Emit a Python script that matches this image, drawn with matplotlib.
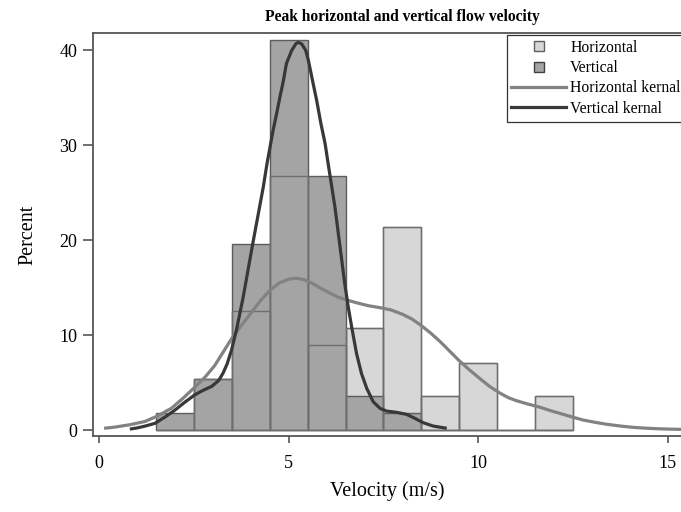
import matplotlib.pyplot as plt
from matplotlib.lines import Line2D

plt.rcParams['font.family'] = ['Liberation Serif', 'DejaVu Serif']

# histogram bins (m/s) and percentages
bin_left = [1.5, 2.5, 3.5, 4.5, 5.5, 6.5, 7.5, 8.5, 9.5, 10.5, 11.5]
horizontal_pct = [0.0, 5.4, 12.5, 26.8, 9.0, 10.7, 21.4, 3.6, 7.1, 0.0, 3.6]
vertical_pct = [1.8, 5.4, 19.6, 41.1, 26.8, 3.6, 1.8, 0.0, 0.0, 0.0, 0.0]

# kernel density curves
h_kern_x = [0.13, 0.4, 0.8, 1.21, 1.55, 1.91, 2.2, 2.52, 2.8, 3.05, 3.27, 3.49, 3.75,
            4.0, 4.25, 4.5, 4.75, 5.0, 5.2, 5.4, 5.6, 5.82, 6.05, 6.3, 6.53, 6.8, 7.1,
            7.4, 7.7, 8.0, 8.25, 8.5, 8.75, 9.0, 9.25, 9.5, 9.75, 10.05, 10.3, 10.57,
            10.8, 11.0, 11.3, 11.63, 11.9, 12.2, 12.5, 12.77, 13.1, 13.4, 13.75, 14.09,
            14.4, 14.7, 15.0, 15.35]
h_kern_y = [0.18, 0.3, 0.55, 0.9, 1.5, 2.3, 3.3, 4.5, 5.6, 6.8, 8.2, 9.6, 11.0,
            12.3, 13.6, 14.7, 15.5, 15.9, 16.0, 15.85, 15.5, 15.0, 14.5, 14.0, 13.7, 13.4, 13.1,
            12.9, 12.65, 12.2, 11.7, 11.0, 10.2, 9.3, 8.3, 7.3, 6.4, 5.4, 4.6, 3.9,
            3.4, 3.1, 2.75, 2.4, 2.05, 1.7, 1.35, 1.05, 0.8, 0.6, 0.42, 0.28,
            0.2, 0.14, 0.1, 0.07]
v_kern_x = [0.81, 1.0, 1.2, 1.47, 1.75, 2.0, 2.25, 2.52, 2.75, 2.97, 3.15, 3.27, 3.38,
            3.49, 3.62, 3.8, 4.06, 4.33, 4.43, 4.59, 4.68, 4.77, 4.86, 4.94, 5.08, 5.19,
            5.25, 5.34, 5.45, 5.52, 5.63, 5.74, 5.85, 5.96, 6.04, 6.13, 6.22, 6.31, 6.4,
            6.48, 6.57, 6.66, 6.79, 6.92, 7.06, 7.23, 7.41, 7.58, 7.85, 8.11, 8.33, 8.55,
            8.81, 9.17]
v_kern_y = [0.1, 0.22, 0.4, 0.7, 1.4, 2.1, 2.9, 3.7, 4.2, 4.6, 5.2, 6.0, 7.0,
            8.4, 10.5, 14.0, 19.8, 25.6, 28.1, 31.6, 33.3, 35.1, 36.8, 38.6, 40.0, 40.7,
            40.84, 40.7, 40.0, 38.95, 36.8, 34.7, 32.3, 30.2, 28.1, 25.8, 23.5, 20.7, 17.9,
            15.4, 13.0, 10.9, 8.07, 5.96, 4.39, 2.98, 2.28, 2.0, 1.86, 1.65, 1.23, 0.77,
            0.42, 0.18]

fig = plt.figure(figsize=(6.81, 5.12), dpi=100)
ax = fig.add_axes([92.7 / 681, 76 / 512, 1 - 92.7 / 681, (436 - 33.3) / 512])

light = '#d7d7d7'
dark = '#a4a4a4'
ax.bar(bin_left, horizontal_pct, width=1, align='edge', color=light, edgecolor='#8e8e8e', linewidth=1, zorder=1)
ax.bar(bin_left, vertical_pct, width=1, align='edge', color=dark, edgecolor='#5c5c5c', linewidth=1, zorder=2)
ax.bar(bin_left, horizontal_pct, width=1, align='edge', fill=False, edgecolor='#6e6e6e', linewidth=1, zorder=3)

ax.plot(h_kern_x, h_kern_y, color='#828282', lw=2.3, zorder=4, solid_capstyle='butt', solid_joinstyle='round')
ax.plot(v_kern_x, v_kern_y, color='#383838', lw=2.3, zorder=5, solid_capstyle='butt', solid_joinstyle='round')

ax.set_xlim(-0.17, 15.35)
ax.set_ylim(-0.63, 41.8)
ax.set_xticks([0, 5, 10, 15])
ax.set_yticks([0, 10, 20, 30, 40])
ax.tick_params(direction='out', width=1.2, color='#555555', labelsize=13)
ax.tick_params(axis='x', length=5, pad=9)
ax.tick_params(axis='y', length=7, pad=4)
for s in ['left', 'bottom', 'top']:
    ax.spines[s].set_color('#555555')
    ax.spines[s].set_linewidth(1.3)
ax.spines['right'].set_visible(False)

ax.set_title('Peak horizontal and vertical flow velocity', fontsize=11.2, fontweight='bold',
             pad=9, x=0.527)
ax.set_xlabel('Velocity (m/s)', fontsize=14.5, labelpad=6)
ax.set_ylabel('Percent', fontsize=14.5, labelpad=16)

handles = [
    Line2D([], [], ls='none', marker='s', ms=7.5, mfc=light, mec='#606060'),
    Line2D([], [], ls='none', marker='s', ms=7.5, mfc=dark, mec='#404040'),
    Line2D([], [], color='#828282', lw=2.3),
    Line2D([], [], color='#383838', lw=2.3),
]
labels = ['Horizontal', 'Vertical', 'Horizontal kernal', 'Vertical kernal']
leg = ax.legend(handles, labels, loc='upper left', bbox_to_anchor=(506.7 / 681, 1 - 35 / 512),
                bbox_transform=fig.transFigure, fontsize=11.3, frameon=True, fancybox=False,
                handlelength=3.5, handletextpad=0.25, borderpad=0.3, labelspacing=0.28,
                borderaxespad=0)
leg.get_frame().set_edgecolor('black')
leg.get_frame().set_linewidth(0.9)

fig.savefig('out.png', dpi=100)
